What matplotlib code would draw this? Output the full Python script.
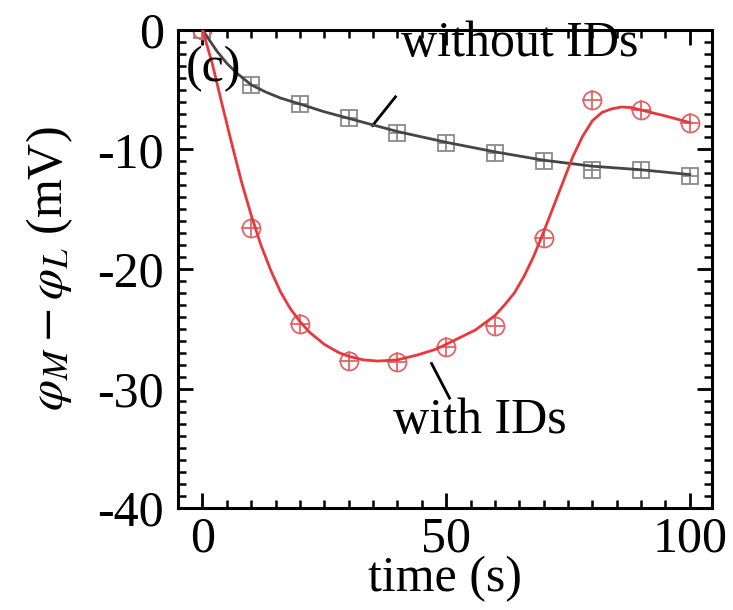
import numpy as np
import matplotlib
matplotlib.use('Agg')
import matplotlib.pyplot as plt
from matplotlib.ticker import MultipleLocator

plt.rcParams['font.family'] = ['Liberation Serif', 'DejaVu Serif']
plt.rcParams['mathtext.fontset'] = 'stix'
plt.rcParams['axes.unicode_minus'] = False

# measured points
t_pts = [0, 10, 20, 30, 40, 50, 60, 70, 80, 90, 100]
without_pts = [0, -4.6, -6.2, -7.4, -8.6, -9.5, -10.3, -11.0, -11.7, -11.75, -12.2]
with_pts = [0, -16.6, -24.6, -27.7, -27.8, -26.5, -24.75, -17.4, -5.9, -6.7, -7.75]

# fitted curves
t_fit_without = [0, 1, 2, 3, 5, 7, 10, 13, 16, 20, 25, 30, 40, 50, 60, 70, 80, 90, 100]
fit_without = [0, -0.6, -1.2, -1.8, -2.8, -3.6, -4.6, -5.2, -5.7, -6.2, -6.85, -7.4,
               -8.5, -9.4, -10.2, -10.9, -11.4, -11.7, -12.1]
t_fit_with = [0, 2, 4, 6, 8, 10, 12, 14, 16, 18, 20, 22, 25, 28, 30, 33, 36, 40,
              44, 48, 50, 54, 56, 58, 60, 62, 64, 66, 68, 70, 72, 74, 76, 78, 80,
              82, 84, 86, 88, 90, 95, 100]
fit_with = [0, -2.8, -6.2, -9.5, -12.7, -15.5, -18.0, -20.1, -21.9, -23.3, -24.4,
            -25.3, -26.3, -27.0, -27.3, -27.6, -27.7, -27.6, -27.2, -26.7, -26.3,
            -25.5, -25.1, -24.5, -23.9, -23.0, -22.0, -20.6, -18.9, -16.9, -14.8,
            -12.7, -10.6, -8.9, -7.6, -6.9, -6.6, -6.45, -6.5, -6.7, -7.2, -7.75]

fig = plt.figure(figsize=(7.33, 6.10), dpi=100)
ax = fig.add_axes([0.243, 0.167, 0.728, 0.784])

gray_line = '#454545'
gray_mk = '#8a8a8a'
red_line = '#e8383c'
red_mk = '#e06466'

ax.plot(t_fit_without, fit_without, color=gray_line, lw=2.0, zorder=3)
ax.plot(t_fit_with, fit_with, color=red_line, lw=2.0, zorder=3)

for mk in ['s', '+']:
    ax.plot(t_pts, without_pts, ls='none', marker=mk, ms=11 if mk == 's' else 12,
            mfc='none', mec=gray_mk, mew=1.3, zorder=2)
for mk in ['o', '+']:
    ax.plot(t_pts, with_pts, ls='none', marker=mk, ms=13 if mk == 'o' else 14,
            mfc='none', mec=red_mk, mew=1.3, zorder=2)

ax.set_xlim(-5, 104.5)
ax.set_ylim(-40, 0)
ax.xaxis.set_major_locator(MultipleLocator(50))
ax.xaxis.set_minor_locator(MultipleLocator(5))
ax.yaxis.set_major_locator(MultipleLocator(10))
ax.yaxis.set_minor_locator(MultipleLocator(1))
ax.tick_params(which='both', direction='in', top=True, right=True, labelsize=36)
ax.tick_params(which='major', length=11, width=2)
ax.tick_params(which='minor', length=6, width=1.8)
ax.tick_params(axis='x', pad=6)
ax.tick_params(axis='y', pad=10)
for s in ax.spines.values():
    s.set_linewidth(2.2)

ax.set_xlabel('time (s)', fontsize=36, labelpad=-5)
ax.set_ylabel(r'$\varphi_M - \varphi_L$ (mV)', fontsize=36, labelpad=16)

ax.text(-3.4, -3.3, '(c)', fontsize=36, ha='left', va='center')
ax.text(65, -1.2, 'without IDs', fontsize=36, ha='center', va='center')
ax.plot([39.6, 34.9], [-5.6, -8.0], color='black', lw=2)
ax.text(57, -32.7, 'with IDs', fontsize=36, ha='center', va='center')
ax.plot([47.0, 50.7], [-27.9, -30.8], color='black', lw=2)

fig.savefig('out.png', dpi=100)
